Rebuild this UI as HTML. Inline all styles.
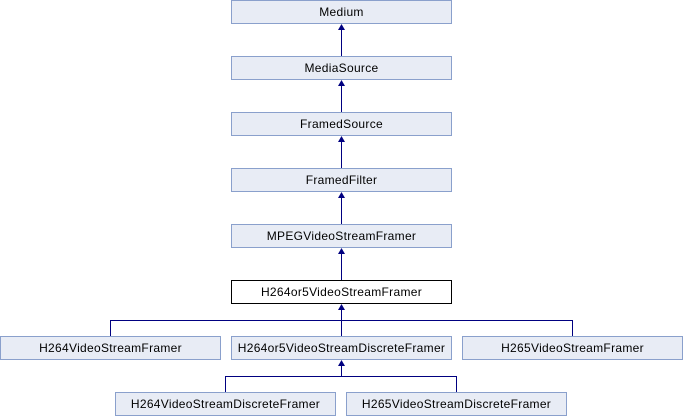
<!DOCTYPE html>
<html><head><style>body{margin:0;background:#fff}svg{display:block}text{font-family:"Liberation Sans",sans-serif;font-size:12px;fill:#000;letter-spacing:0.3px}</style></head><body>
<svg width="683" height="416" xmlns="http://www.w3.org/2000/svg">
<g fill="#e8ecf5" stroke="#8aa0cc" stroke-width="1">
<rect x="231.5" y="0.5" width="220" height="23"/>
<rect x="231.5" y="56.5" width="220" height="23"/>
<rect x="231.5" y="112.5" width="220" height="23"/>
<rect x="231.5" y="168.5" width="220" height="23"/>
<rect x="231.5" y="224.5" width="220" height="23"/>
<rect x="0.5" y="336.5" width="220" height="23"/>
<rect x="231.5" y="336.5" width="220" height="23"/>
<rect x="462.5" y="336.5" width="220" height="23"/>
<rect x="115.5" y="392.5" width="220" height="23"/>
<rect x="346.5" y="392.5" width="220" height="23"/>
</g>
<rect x="231.5" y="280.5" width="220" height="23" fill="#fff" stroke="#000"/>
<g stroke="#000080" stroke-width="1" fill="none">
<line x1="341.5" y1="27" x2="341.5" y2="56"/>
<line x1="341.5" y1="83" x2="341.5" y2="112"/>
<line x1="341.5" y1="139" x2="341.5" y2="168"/>
<line x1="341.5" y1="195" x2="341.5" y2="224"/>
<line x1="341.5" y1="251" x2="341.5" y2="280"/>
<line x1="341.5" y1="307" x2="341.5" y2="336"/>
<polyline points="110.5,336 110.5,320.5 572.5,320.5 572.5,336"/>
<line x1="341.5" y1="363" x2="341.5" y2="376"/>
<polyline points="225.5,392 225.5,376.5 456.5,376.5 456.5,392"/>
</g>
<g fill="#000080">
<polygon points="341.5,24 338,30 345,30"/>
<polygon points="341.5,80 338,86 345,86"/>
<polygon points="341.5,136 338,142 345,142"/>
<polygon points="341.5,192 338,198 345,198"/>
<polygon points="341.5,248 338,254 345,254"/>
<polygon points="341.5,304 338,310 345,310"/>
<polygon points="341.5,360 338,366 345,366"/>
</g>
<g text-anchor="middle">
<text x="341.5" y="16">Medium</text>
<text x="341.5" y="72">MediaSource</text>
<text x="341.5" y="128">FramedSource</text>
<text x="341.5" y="184">FramedFilter</text>
<text x="341.5" y="240">MPEGVideoStreamFramer</text>
<text x="341.5" y="296">H264or5VideoStreamFramer</text>
<text x="110.5" y="352">H264VideoStreamFramer</text>
<text x="341.5" y="352">H264or5VideoStreamDiscreteFramer</text>
<text x="572.5" y="352">H265VideoStreamFramer</text>
<text x="225.5" y="408">H264VideoStreamDiscreteFramer</text>
<text x="456.5" y="408">H265VideoStreamDiscreteFramer</text>
</g>
</svg>
</body></html>
